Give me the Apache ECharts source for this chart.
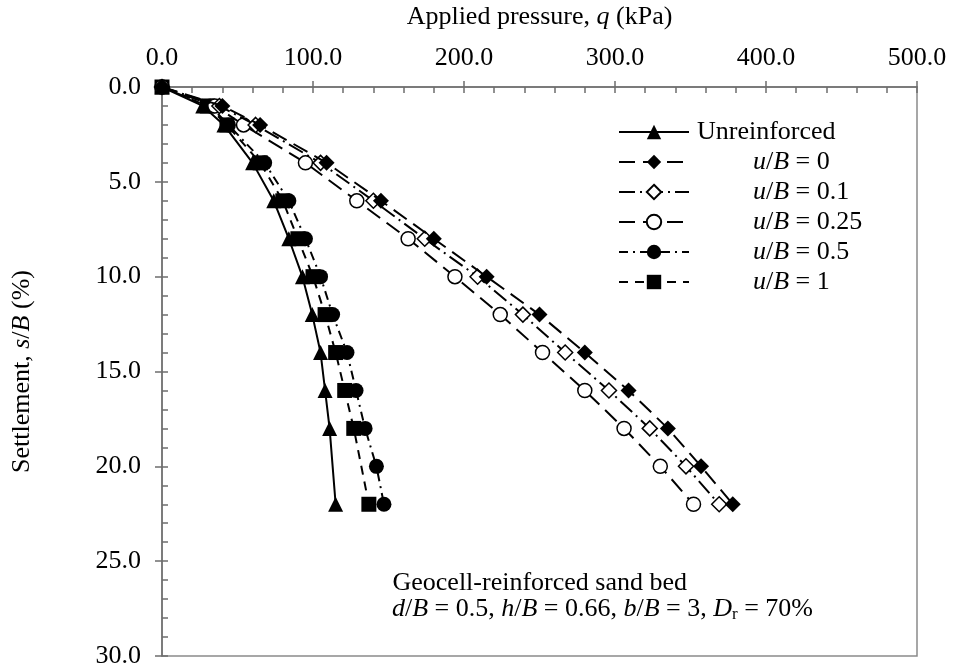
<!DOCTYPE html>
<html><head><meta charset="utf-8">
<script src="https://cdn.jsdelivr.net/npm/echarts@6/dist/echarts.min.js"></script>
<style>html,body{margin:0;padding:0;background:#fff}#c{width:954px;height:668px}</style>
</head><body><div id="c"></div>
<script>
// ---- data ----
const xTicks = [0, 100, 200, 300, 400, 500];
const yTicks = [0, 5, 10, 15, 20, 25, 30];
const seriesNames = ['Unreinforced', 'u/B = 0', 'u/B = 0.1', 'u/B = 0.25', 'u/B = 0.5', 'u/B = 1'];
const sUnreinforced = [0, 1, 2, 4, 6, 8, 10, 12, 14, 16, 18, 22];
const qUnreinforced = [0, 27, 41, 60, 74, 84, 93, 99.5, 105, 108, 111, 115];
const sUB0 = [0, 1, 2, 4, 6, 8, 10, 12, 14, 16, 18, 20, 22];
const qUB0 = [0, 40, 65, 109, 145, 180, 215, 250, 280, 309, 335, 357, 378];
const sUB01 = [0, 1, 2, 4, 6, 8, 10, 12, 14, 16, 18, 20, 22];
const qUB01 = [0, 38, 62, 105, 140, 174, 209, 239, 267, 296, 323, 347, 369];
const sUB025 = [0, 1, 2, 4, 6, 8, 10, 12, 14, 16, 18, 20, 22];
const qUB025 = [0, 35, 54, 95, 129, 163, 194, 224, 252, 280, 306, 330, 352];
const sUB05 = [0, 1, 2, 4, 6, 8, 10, 12, 14, 16, 18, 20, 22];
const qUB05 = [0, 32, 44, 68, 84, 95, 105, 113, 122.5, 128.5, 134.5, 142, 147];
const sUB1 = [0, 1, 2, 4, 6, 8, 10, 12, 14, 16, 18, 22];
const qUB1 = [0, 30, 43, 65, 80, 90, 100, 108, 115, 121, 127, 137];

const FONT = "'Liberation Serif','Times New Roman',serif";
const FS = 26;
const pairs = (q, s) => q.map((v, i) => [v, s[i]]);

const styles = [
  {sym: 'triangle', size: 15, fill: '#000', dash: 'solid', w: 2},
  {sym: 'diamond', size: 16, fill: '#000', dash: [16, 8], w: 2},
  {sym: 'diamond', size: 15, fill: '#fff', dash: [16, 5, 2, 5], w: 2},
  {sym: 'circle', size: 14, fill: '#fff', dash: [16, 8], w: 2},
  {sym: 'circle', size: 15, fill: '#000', dash: [9, 5, 2, 5], w: 2},
  {sym: 'rect', size: 15, fill: '#000', dash: [9, 7], w: 2}
];
const datasets = [
  pairs(qUnreinforced, sUnreinforced), pairs(qUB0, sUB0), pairs(qUB01, sUB01),
  pairs(qUB025, sUB025), pairs(qUB05, sUB05), pairs(qUB1, sUB1)
];

const series = datasets.map((d, i) => ({
  name: seriesNames[i], type: 'line', data: d, xAxisIndex: 0, yAxisIndex: 0,
  symbol: styles[i].sym, symbolSize: styles[i].size, showAllSymbol: true,
  lineStyle: {color: '#000', width: styles[i].w, type: styles[i].dash},
  itemStyle: {color: styles[i].fill, borderColor: '#000', borderWidth: styles[i].fill === '#fff' ? 1.5 : 0},
  z: 10 - i, animation: false
}));

const rich = {
  i: {fontFamily: FONT, fontSize: FS, fontStyle: 'italic', color: '#000'},
  n: {fontFamily: FONT, fontSize: FS, color: '#000'},
  sp: {width: 56},
  g: {width: 3}
};

const chart = echarts.init(document.getElementById('c'), null, {renderer: 'canvas'});
const axisLine = {show: true, lineStyle: {color: '#6e6e6e', width: 1.5}};
chart.setOption({
  animation: false,
  backgroundColor: '#fff',
  grid: {left: 162, right: 37, top: 87, bottom: 12, containLabel: false, outerBoundsMode: 'none',
         show: true, borderColor: '#8a8a8a', borderWidth: 1.5, backgroundColor: 'transparent'},
  xAxis: [
    {type: 'value', position: 'top', min: 0, max: 500, interval: 100,
     name: 'Applied pressure, {i|q} (kPa)', nameLocation: 'middle', nameGap: 57,
     nameTextStyle: {fontFamily: FONT, fontSize: FS, color: '#000', rich: rich},
     axisLine: axisLine, axisTick: {show: true, inside: false, length: 6, lineStyle: {color: '#6e6e6e', width: 1.5}},
     axisLabel: {fontFamily: FONT, fontSize: FS, color: '#000', margin: 16, formatter: v => xTicks.includes(v) ? v.toFixed(1) : ''},
     splitLine: {show: false}},
    {type: 'value', position: 'top', min: 0, max: 500, interval: 20,
     axisLine: {show: false}, axisLabel: {show: false}, splitLine: {show: false},
     axisTick: {show: true, inside: true, length: 6, lineStyle: {color: '#6e6e6e', width: 1.5}}}
  ],
  yAxis: [
    {type: 'value', inverse: true, min: 0, max: 30, interval: 5, position: 'left',
     name: 'Settlement, {i|s}/{i|B} (%)', nameLocation: 'middle', nameGap: 127, nameRotate: 90,
     nameTextStyle: {fontFamily: FONT, fontSize: FS, color: '#000', rich: rich},
     axisLine: axisLine, axisTick: {show: true, inside: false, length: 7, lineStyle: {color: '#6e6e6e', width: 1.5}},
     axisLabel: {fontFamily: FONT, fontSize: FS, color: '#000', margin: 21, formatter: v => yTicks.includes(v) ? v.toFixed(1) : ''},
     splitLine: {show: false}},
    {type: 'value', inverse: true, min: 0, max: 30, interval: 1, position: 'left',
     axisLine: {show: false}, axisLabel: {show: false}, splitLine: {show: false},
     axisTick: {show: true, inside: true, length: 6, lineStyle: {color: '#6e6e6e', width: 1.5}}}
  ],
  legend: {
    show: true, orient: 'vertical', left: 618, top: 119, padding: 0, itemWidth: 70, itemHeight: 18, itemGap: 4,
    data: seriesNames,
    textStyle: {fontFamily: FONT, fontSize: FS, color: '#000', lineHeight: 26, rich: rich},
    formatter: name => {
      if (name === 'Unreinforced') return '{g|}{n|' + name + '}';
      const val = name.split('= ')[1];
      return '{g|}{sp|}{i|u}{n|/}{i|B}{n| = ' + val + '}';
    }
  },
  graphic: [
    {type: 'text', x: 687, y: 583, style: {text: 'Geocell-reinforced sand bed', font: FS + 'px ' + FONT, fill: '#000', textAlign: 'right', textVerticalAlign: 'middle'}},
    {type: 'text', x: 813, y: 609, style: {
      text: '{i|d}/{i|B} = 0.5, {i|h}/{i|B} = 0.66, {i|b}/{i|B} = 3, {i|D}{sub|r} = 70%',
      font: FS + 'px ' + FONT, fill: '#000', textAlign: 'right', textVerticalAlign: 'middle',
      rich: {i: {fontFamily: FONT, fontSize: FS, fontStyle: 'italic', fill: '#000'},
             sub: {fontFamily: FONT, fontSize: 17, fill: '#000', padding: [12, 0, 0, 0]}}}}
  ],
  series: series
});
</script></body></html>
